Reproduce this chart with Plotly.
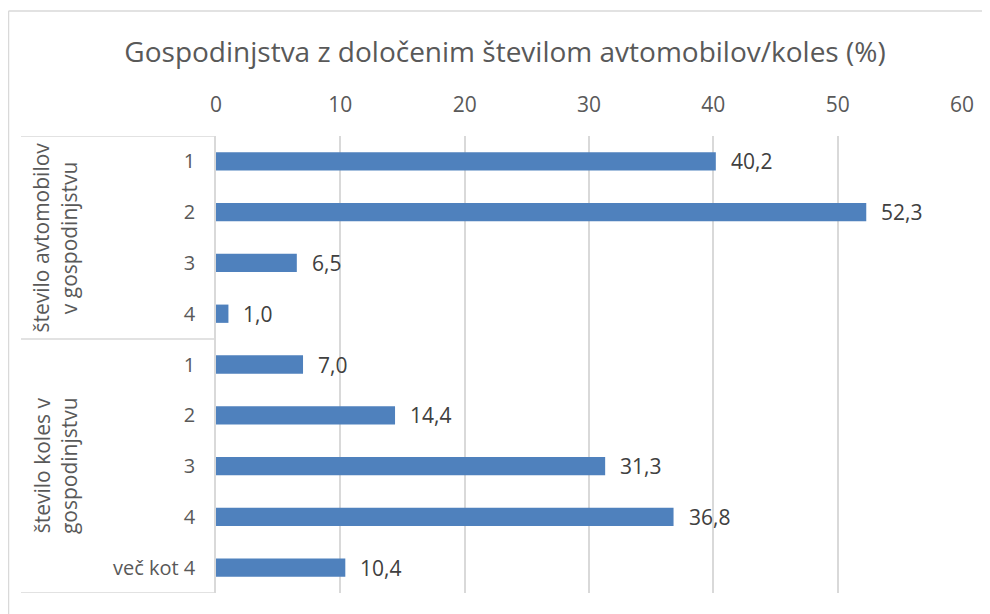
import plotly.graph_objects as go

title_text = "Gospodinjstva z določenim številom avtomobilov/koles (%)"
group_labels = ["število avtomobilov<br>v gospodinjstvu", "število koles v<br>gospodinjstvu"]
group_sizes = [4, 5]
categories = ["1", "2", "3", "4", "1", "2", "3", "4", "več kot 4"]
values = [40.2, 52.3, 6.5, 1.0, 7.0, 14.4, 31.3, 36.8, 10.4]
x_ticks = [0, 10, 20, 30, 40, 50, 60]

W, H = 990, 614
OFF = 8  # page body margin
ML, MT = 216 - OFF, 136 - OFF
MR = W - (962 - OFF)
MB = H - (593 - OFF)
pw = W - ML - MR
ph = H - MT - MB

def px_to_paper_x(px):
    return (px - OFF - ML) / pw

def py_to_paper_y(py):
    return (H - MB - (py - OFF)) / ph

FONT = "Open Sans"
GRAY = "#595959"
LINE = "#d9d9d9"
BAR = "#4f81bd"

pos = list(range(len(categories)))

fig = go.Figure()
fig.add_trace(go.Bar(
    x=values, y=pos, orientation="h",
    marker=dict(color=BAR, line=dict(width=0)),
    width=0.36, hoverinfo="skip",
))

annotations = []
for p, v in zip(pos, values):
    annotations.append(dict(
        x=v, y=p, xref="x", yref="y",
        text=f"{v:.1f}".replace(".", ","),
        showarrow=False, xanchor="left", yanchor="middle", xshift=13,
        font=dict(family=FONT, size=21, color="#404040"),
    ))

shapes = []
start = 0
lx0 = px_to_paper_x(21)
for gl, gs in zip(group_labels, group_sizes):
    center = start + (gs - 1) / 2
    annotations.append(dict(
        x=px_to_paper_x(55), y=center, xref="paper", yref="y",
        text=gl, showarrow=False, textangle=-90,
        xanchor="center", yanchor="middle",
        font=dict(family=FONT, size=21, color=GRAY),
    ))
    shapes.append(dict(type="line", xref="paper", yref="y",
                       x0=lx0, x1=0, y0=start - 0.5, y1=start - 0.5,
                       line=dict(color=LINE, width=1.5)))
    start += gs
shapes.append(dict(type="line", xref="paper", yref="y",
                   x0=lx0, x1=0, y0=start - 0.5, y1=start - 0.5,
                   line=dict(color=LINE, width=1.5)))
# chart border (partially visible)
bx = px_to_paper_x(8.5)
by = py_to_paper_y(11)
shapes.append(dict(type="line", xref="paper", yref="paper",
                   x0=bx, x1=px_to_paper_x(1000), y0=by, y1=by,
                   line=dict(color=LINE, width=1.5)))
shapes.append(dict(type="line", xref="paper", yref="paper",
                   x0=bx, x1=bx, y0=by, y1=py_to_paper_y(630),
                   line=dict(color=LINE, width=1.5)))

fig.update_layout(
    width=W, height=H,
    margin=dict(l=ML, r=MR, t=MT, b=MB),
    paper_bgcolor="white", plot_bgcolor="white",
    showlegend=False,
    title=dict(text=title_text, x=(505 - OFF) / W, xanchor="center",
               y=1 - (52 - OFF) / H, yanchor="middle",
               font=dict(family=FONT, size=28, color=GRAY)),
    xaxis=dict(side="top", range=[0, 60], tickvals=x_ticks,
               showgrid=True, gridcolor=LINE, gridwidth=1.5,
               zeroline=False, showline=False, ticks="",
               ticklabelstandoff=19,
               tickfont=dict(family=FONT, size=21, color=GRAY)),
    yaxis=dict(range=[len(categories) - 0.5, -0.5], tickvals=pos,
               ticktext=categories, showgrid=False, zeroline=False,
               showline=True, linecolor=LINE, linewidth=1.5, ticks="",
               ticklabelstandoff=15,
               tickfont=dict(family=FONT, size=20, color=GRAY)),
    annotations=annotations, shapes=shapes,
)

fig.write_html("out.html")
